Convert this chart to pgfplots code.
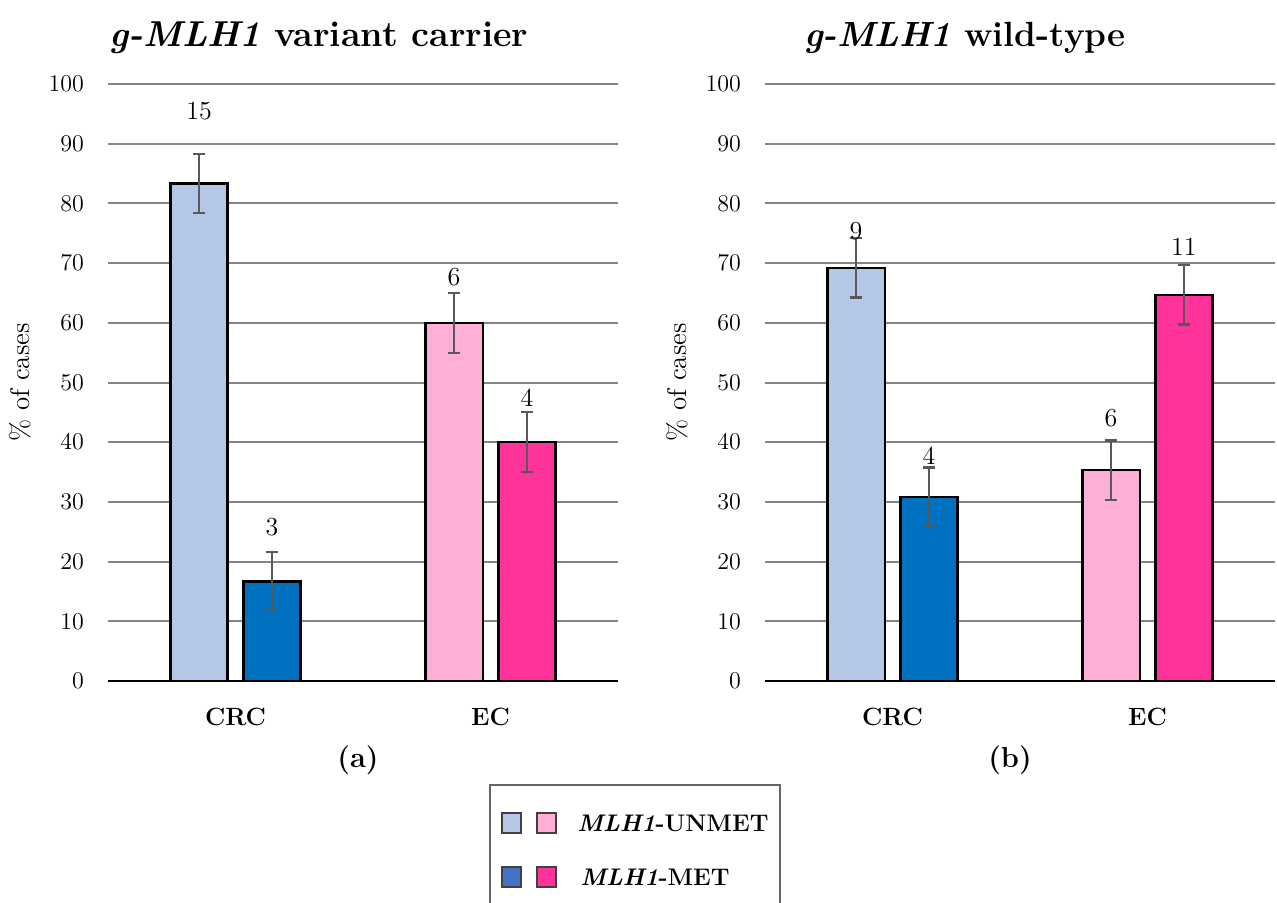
\documentclass[border=0pt]{standalone}
\usepackage{pgfplots}
\pgfplotsset{compat=1.18}
\definecolor{cu}{HTML}{B4C7E7}
\definecolor{cm}{HTML}{0070C0}
\definecolor{eu}{HTML}{FFAFD7}
\definecolor{em}{HTML}{FF3399}
\definecolor{lm}{HTML}{4472C4}
\definecolor{eb}{HTML}{595959}
\definecolor{gl}{HTML}{858585}
\pgfplotsset{
 panel/.style={
  ybar, scale only axis, width=255pt, height=298.5pt,
  xmin=-0.5, xmax=1.5, ymin=0, ymax=100,
  xtick={0,1}, xticklabels={CRC,EC},
  ytick={0,10,...,100},
  ymajorgrids, grid style={gl, line width=1pt},
  axis lines*=left, y axis line style={draw=none},
  x axis line style={black, line width=1.4pt, -},
  major tick length=0pt,
  bar width=0.224,
  xticklabel style={font=\fontsize{12.5}{14}\selectfont\bfseries, yshift=-10pt},
  yticklabel style={font=\fontsize{12}{14}\selectfont, xshift=-8.5pt},
  ylabel={\% of cases},
  every axis y label/.style={at={(rel axis cs:-0.172,0.5)}, rotate=90, anchor=center, font=\fontsize{13.5}{16}\selectfont},
  error bars/y dir=both, error bars/y explicit,
  error bars/error bar style={eb, line width=1.1pt},
  error bars/error mark options={eb, line width=1.1pt, rotate=90, mark size=3pt},
  every axis plot/.append style={draw=black, line width=1.1pt},
  anchor=south west,
 }
}
\begin{document}
\begin{tikzpicture}[x=1pt,y=1pt]
\path[use as bounding box] (0,0) rectangle (638.5,451);
\begin{axis}[panel, at={(54pt,110.5pt)}]
\addplot[fill=cu, bar shift=-0.143] coordinates {(0,83.33) +- (0,5)};
\addplot[fill=cm, bar shift=0.143] coordinates {(0,16.67) +- (0,5)};
\addplot[fill=eu, bar shift=-0.143] coordinates {(1,60) +- (0,5)};
\addplot[fill=em, bar shift=0.143] coordinates {(1,40) +- (0,5)};
\node[font=\fontsize{13}{15}\selectfont] at (axis cs:-0.143,95.5) {15};
\node[font=\fontsize{13}{15}\selectfont] at (axis cs:0.143,25.7) {3};
\node[font=\fontsize{13}{15}\selectfont] at (axis cs:0.857,67.7) {6};
\node[font=\fontsize{13}{15}\selectfont] at (axis cs:1.143,47.4) {4};
\end{axis}
\begin{axis}[panel, at={(382.5pt,110.5pt)}]
\addplot[fill=cu, bar shift=-0.143] coordinates {(0,69.23) +- (0,5)};
\addplot[fill=cm, bar shift=0.143] coordinates {(0,30.77) +- (0,5)};
\addplot[fill=eu, bar shift=-0.143] coordinates {(1,35.29) +- (0,5)};
\addplot[fill=em, bar shift=0.143] coordinates {(1,64.71) +- (0,5)};
\node[font=\fontsize{13}{15}\selectfont] at (axis cs:-0.143,75.4) {9};
\node[font=\fontsize{13}{15}\selectfont] at (axis cs:0.143,37.8) {4};
\node[font=\fontsize{13}{15}\selectfont] at (axis cs:0.857,44.1) {6};
\node[font=\fontsize{13}{15}\selectfont] at (axis cs:1.143,72.8) {11};
\end{axis}
\node[font=\fontsize{18}{21}\selectfont\bfseries] at (159.5,432) {\textit{g-MLH1} variant carrier};
\node[font=\fontsize{17.5}{21}\selectfont\bfseries] at (482.5,432) {\textit{g-MLH1} wild-type};
\node[font=\fontsize{14.5}{17}\selectfont\bfseries] at (179,71) {(a)};
\node[font=\fontsize{14.5}{17}\selectfont\bfseries] at (505,71) {(b)};
% legend
\draw[black!60, line width=0.8pt] (245,58.5) rectangle (390,-8);
\draw[black!75, line width=0.8pt, fill=cu] (251,34.5) rectangle (260.5,44.5);
\draw[black!75, line width=0.8pt, fill=eu] (268.5,34.5) rectangle (278,44.5);
\draw[black!75, line width=0.8pt, fill=lm] (251,7.5) rectangle (260.5,17.5);
\draw[black!75, line width=0.8pt, fill=em] (268.5,7.5) rectangle (278,17.5);
\node[anchor=west, font=\fontsize{12}{14}\selectfont\bfseries, inner sep=0pt] at (288.5,39.5) {\textit{MLH1}-UNMET};
\node[anchor=west, font=\fontsize{12}{14}\selectfont\bfseries, inner sep=0pt] at (290,12.5) {\textit{MLH1}-MET};
\end{tikzpicture}
\end{document}
